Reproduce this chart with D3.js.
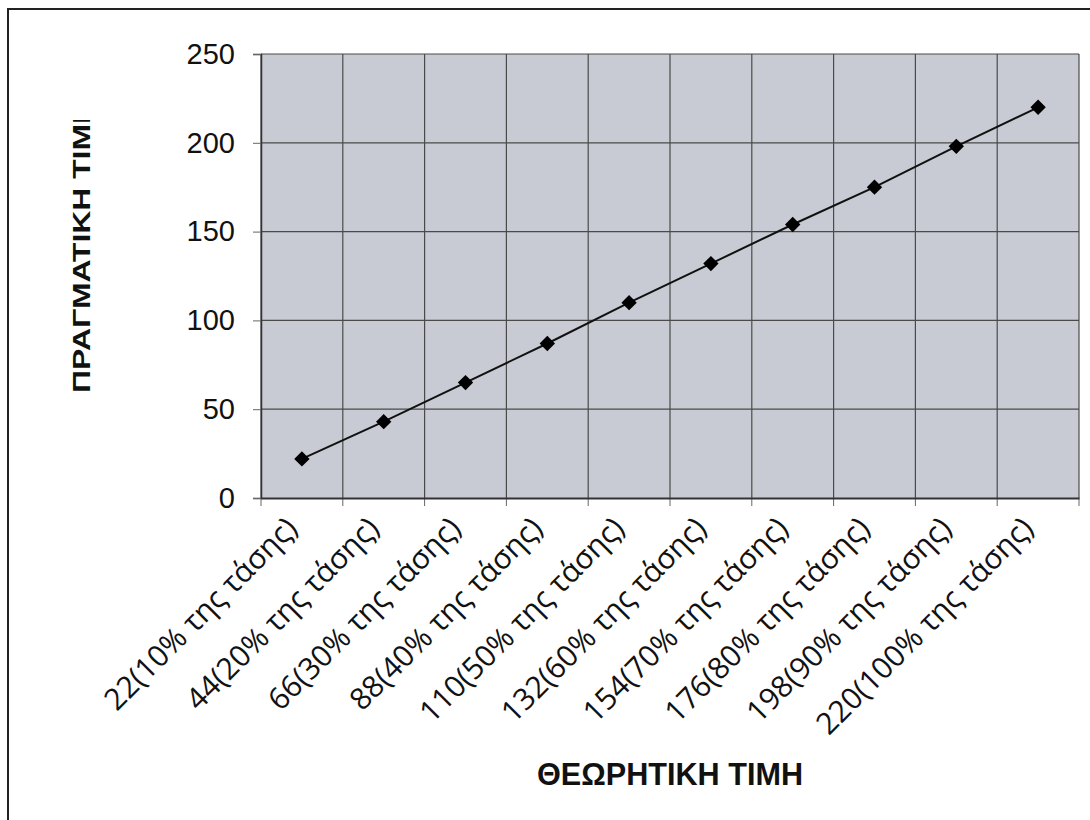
<!DOCTYPE html>
<html>
<head>
<meta charset="utf-8">
<script src="https://cdn.jsdelivr.net/npm/d3@7"></script>
<style>
  body { margin: 0; background: #fff; }
  svg { display: block; }
</style>
</head>
<body>
<div id="chart"></div>
<script>
// category labels along the bottom (theoretical value)
const categories = [
    '22(10% της τάσης)', '44(20% της τάσης)', '66(30% της τάσης)',
    '88(40% της τάσης)', '110(50% της τάσης)', '132(60% της τάσης)',
    '154(70% της τάσης)', '176(80% της τάσης)', '198(90% της τάσης)',
    '220(100% της τάσης)'
];
// measured value for each category
const measured = [22, 43, 65, 87, 110, 132, 154, 175, 198, 220];
const yTicks = [0, 50, 100, 150, 200, 250];

const width = 1090, height = 820;
const plot = { left: 261, right: 1079, top: 54, bottom: 498 };

const svg = d3.select('#chart').append('svg')
    .attr('width', width)
    .attr('height', height);

// outer frame, runs off the right and bottom of the picture
svg.append('rect')
    .attr('x', 8).attr('y', 9)
    .attr('width', width + 20).attr('height', height + 20)
    .attr('fill', 'none')
    .attr('stroke', '#222')
    .attr('stroke-width', 2);

const x = d3.scaleBand()
    .domain(categories)
    .range([plot.left, plot.right])
    .padding(0);

const y = d3.scaleLinear()
    .domain([0, 250])
    .range([plot.bottom, plot.top]);

// grey plot area
svg.append('rect')
    .attr('x', plot.left).attr('y', plot.top)
    .attr('width', plot.right - plot.left)
    .attr('height', plot.bottom - plot.top)
    .attr('fill', '#c8cbd3');

// horizontal gridlines
svg.append('g').selectAll('line')
    .data(yTicks.slice(1))
    .enter().append('line')
    .attr('x1', plot.left).attr('x2', plot.right)
    .attr('y1', d => y(d)).attr('y2', d => y(d))
    .attr('stroke', '#4a4a4a')
    .attr('stroke-width', 1.2);

// vertical gridlines at band edges
const edges = categories.map(c => x(c)).concat([plot.right]);
svg.append('g').selectAll('line')
    .data(edges)
    .enter().append('line')
    .attr('x1', d => d).attr('x2', d => d)
    .attr('y1', plot.top).attr('y2', plot.bottom)
    .attr('stroke', '#4a4a4a')
    .attr('stroke-width', 1.2);

// x tick marks under the axis at band edges
svg.append('g').selectAll('line')
    .data(edges)
    .enter().append('line')
    .attr('x1', d => d).attr('x2', d => d)
    .attr('y1', plot.bottom).attr('y2', plot.bottom + 8)
    .attr('stroke', '#666')
    .attr('stroke-width', 1);

// y axis
const yAxis = svg.append('g')
    .attr('transform', `translate(${plot.left},0)`)
    .call(d3.axisLeft(y).tickValues(yTicks).tickSize(8).tickPadding(18));
yAxis.select('.domain').attr('stroke', '#333').attr('stroke-width', 1.5);
yAxis.selectAll('.tick line').attr('stroke', '#666');
yAxis.selectAll('text')
    .attr('font-family', 'Liberation Sans, Arial, sans-serif')
    .attr('font-size', 29)
    .attr('fill', '#111');

// x axis: labels only, rotated
const xAxis = svg.append('g')
    .attr('transform', `translate(0,${plot.bottom})`)
    .call(d3.axisBottom(x).tickSize(0));
xAxis.select('.domain').attr('stroke', '#333').attr('stroke-width', 2);
xAxis.selectAll('text')
    .attr('font-family', 'Open Sans, sans-serif')
    .attr('font-size', 30)
    .attr('fill', '#111')
    .attr('text-anchor', 'end')
    .attr('x', 0).attr('y', 0).attr('dy', 0)
    .attr('transform', 'translate(-3,32) rotate(-45)');

// the line and its diamond markers
const cx = d => x(d) + x.bandwidth() / 2;
const line = d3.line()
    .x((d, i) => cx(categories[i]))
    .y(d => y(d));

svg.append('path')
    .datum(measured)
    .attr('d', line)
    .attr('fill', 'none')
    .attr('stroke', '#111')
    .attr('stroke-width', 2);

svg.append('g').selectAll('path')
    .data(measured)
    .enter().append('path')
    .attr('d', d3.symbol(d3.symbolDiamond2, 150))
    .attr('transform', (d, i) => `translate(${cx(categories[i])},${y(d)})`)
    .attr('fill', '#000');

// axis titles
svg.append('text')
    .attr('x', (plot.left + plot.right) / 2).attr('y', 785)
    .attr('text-anchor', 'middle')
    .attr('font-family', 'Liberation Sans, Arial, sans-serif')
    .attr('font-weight', 'bold')
    .attr('font-size', 32)
    .attr('textLength', 266)
    .attr('lengthAdjust', 'spacingAndGlyphs')
    .attr('fill', '#111')
    .text('ΘΕΩΡΗΤΙΚΗ ΤΙΜΗ');

// y title is cut at the top in the original
svg.append('clipPath').attr('id', 'ytitle-clip')
    .append('rect')
    .attr('x', 0).attr('y', 120).attr('width', 200).attr('height', 400);

svg.append('g')
    .attr('clip-path', 'url(#ytitle-clip)')
    .append('text')
    .attr('transform', 'translate(90,393) rotate(-90)')
    .attr('text-anchor', 'start')
    .attr('font-family', 'Liberation Sans, Arial, sans-serif')
    .attr('font-weight', 'bold')
    .attr('font-size', 24)
    .attr('textLength', 292)
    .attr('lengthAdjust', 'spacingAndGlyphs')
    .attr('fill', '#111')
    .text('ΠΡΑΓΜΑΤΙΚΗ ΤΙΜΗ');
</script>
</body>
</html>
